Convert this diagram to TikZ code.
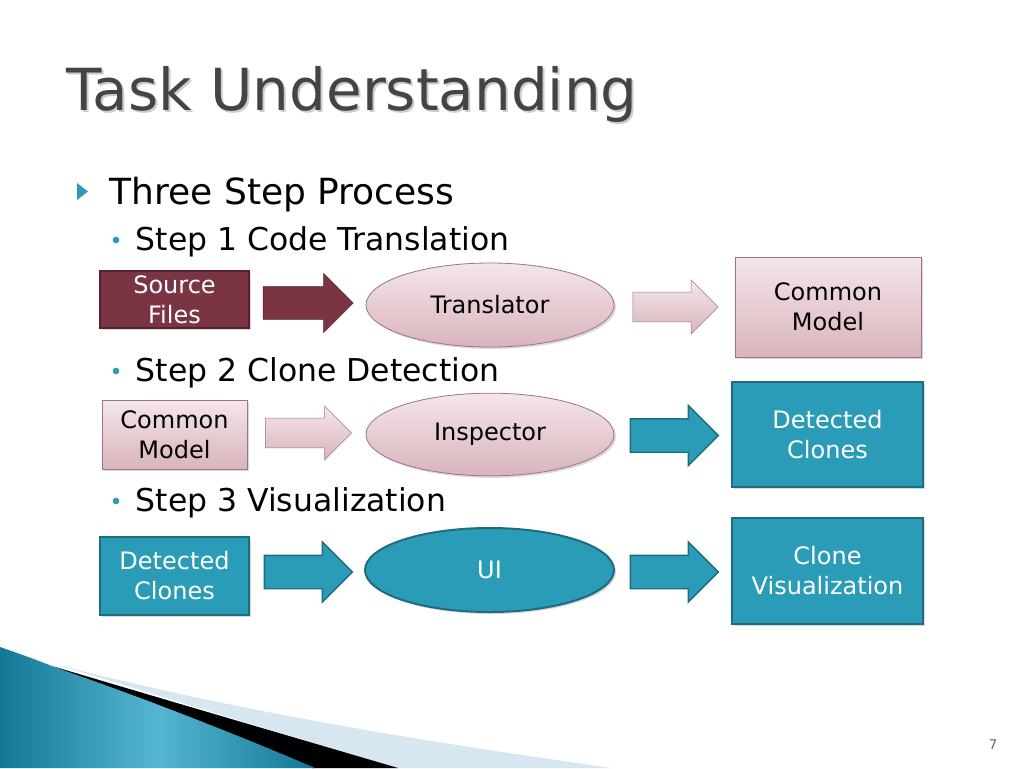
\documentclass[tikz,border=0pt]{standalone}
\usepackage{fontspec}
\setmainfont{DejaVu Sans}
\usetikzlibrary{shapes.geometric,shapes.arrows,shadows}
\definecolor{maroon}{HTML}{7A3443}
\definecolor{maroonline}{HTML}{5A2030}
\definecolor{pinktop}{HTML}{F4E6E9}
\definecolor{pinkbot}{HTML}{D9B4BC}
\definecolor{pinkline}{HTML}{A07282}
\definecolor{teal}{HTML}{2A9CB8}
\definecolor{tealline}{HTML}{1D6C80}
\definecolor{titlegray}{HTML}{444444}
\definecolor{swooshlight}{HTML}{D6E7F0}
\definecolor{swooshdark}{HTML}{137893}
\definecolor{swooshmid}{HTML}{55B6D4}

\begin{document}
\begin{tikzpicture}[x=0.75pt,y=-0.75pt,
    boxtext/.style={align=center,font=\fontsize{18pt}{22.5pt}\selectfont},
    darkbox/.style={boxtext,draw=maroonline,line width=1.5pt,fill=maroon,text=white,
      drop shadow={opacity=0.3,shadow xshift=1.5pt,shadow yshift=-1.5pt}},
    pinkbox/.style={boxtext,draw=pinkline,line width=0.6pt,top color=pinktop,bottom color=pinkbot,
      drop shadow={opacity=0.3,shadow xshift=1.5pt,shadow yshift=-1.5pt}},
    tealbox/.style={boxtext,draw=tealline,line width=1.5pt,fill=teal,text=white,
      drop shadow={opacity=0.3,shadow xshift=1.5pt,shadow yshift=-1.5pt}},
    blockarrow/.style={single arrow,inner xsep=0pt,inner ysep=12pt,single arrow head extend=10pt},
    steptext/.style={anchor=base west,font=\fontsize{23.6pt}{28pt}\selectfont},
    dot/.style={circle,fill=teal,inner sep=0pt,minimum size=5pt}]

\useasboundingbox (0,0) rectangle (1024,768);

% title
\node[anchor=base west,text=gray!40,font=\fontsize{43.5pt}{50pt}\selectfont] at (64,112) {Task Understanding};
\node[anchor=base west,text=titlegray,font=\fontsize{43.5pt}{50pt}\selectfont] (title) at (62,110) {Task Understanding};

% bullets
\fill[teal] (77,183) -- (88,191.5) -- (77,200) -- cycle;
\node[anchor=base west,font=\fontsize{27pt}{32pt}\selectfont] (main) at (105,204) {Three Step Process};
\node[dot] (d1) at (116,240) {};
\node[steptext] (s1) at (131,250) {Step 1 Code Translation};
\node[dot] (d2) at (116,371) {};
\node[steptext] (s2) at (131,381) {Step 2 Clone Detection};
\node[dot] (d3) at (116,501) {};
\node[steptext] (s3) at (131,511) {Step 3 Visualization};

% step 1
\node[darkbox,minimum width=111.75pt,minimum height=42.75pt] (src) at (174.5,299.5) {Source\\Files};
\node[blockarrow,draw=maroonline,fill=maroon,minimum height=67.5pt] (arrA) at (300,303) {};
\node[pinkbox,ellipse,minimum width=186pt,minimum height=63pt] (trans) at (490,305) {Translator};
\node[blockarrow,draw=pinkline,top color=pinktop,bottom color=pinkbot,minimum height=64pt,inner ysep=11pt,single arrow head extend=9pt] (arrB) at (668,307) {};
\node[pinkbox,minimum width=139.5pt,minimum height=75pt] (cm1) at (828,307) {Common\\Model};

% step 2
\node[pinkbox,minimum width=108.75pt,minimum height=51.75pt] (cm2) at (174.5,434.5) {Common\\Model};
\node[blockarrow,draw=pinkline,top color=pinktop,bottom color=pinkbot,minimum height=64.5pt,inner ysep=11pt,single arrow head extend=9pt] (arrC) at (301,433) {};
\node[pinkbox,ellipse,minimum width=186pt,minimum height=62pt] (insp) at (490,434.5) {Inspector};
\node[blockarrow,draw=tealline,line width=1pt,fill=teal,minimum height=66pt] (arrD) at (666,435.5) {};
\node[tealbox,minimum width=143.25pt,minimum height=78.75pt] (dc1) at (827.5,434.5) {Detected\\Clones};

% step 3
\node[tealbox,minimum width=111.75pt,minimum height=58.5pt] (dc2) at (174.5,576) {Detected\\Clones};
\node[blockarrow,draw=tealline,line width=1pt,fill=teal,minimum height=66pt] (arrE) at (300,572) {};
\node[tealbox,ellipse,minimum width=186.75pt,minimum height=63pt] (ui) at (489.5,570) {UI};
\node[blockarrow,draw=tealline,line width=1pt,fill=teal,minimum height=66pt] (arrF) at (666,572) {};
\node[tealbox,minimum width=143.25pt,minimum height=79.5pt] (cv) at (827.5,571) {Clone\\Visualization};

% swoosh
\fill[swooshlight] (55,664) .. controls (250,715) and (450,745) .. (612,768) -- (395,768) -- cycle;
\fill[black] (52,666) .. controls (200,710) and (320,745) .. (398,768) -- (312,768) -- cycle;
\shade[left color=swooshdark,right color=swooshdark,middle color=swooshmid] (0,647) .. controls (20,654) and (40,661) .. (54,667) .. controls (150,700) and (250,740) .. (315,768) -- (0,768) -- cycle;

% page number
\node[text=gray!80!black,font=\fontsize{10pt}{12pt}\selectfont] (pg) at (993,745) {7};

\end{tikzpicture}
\end{document}
